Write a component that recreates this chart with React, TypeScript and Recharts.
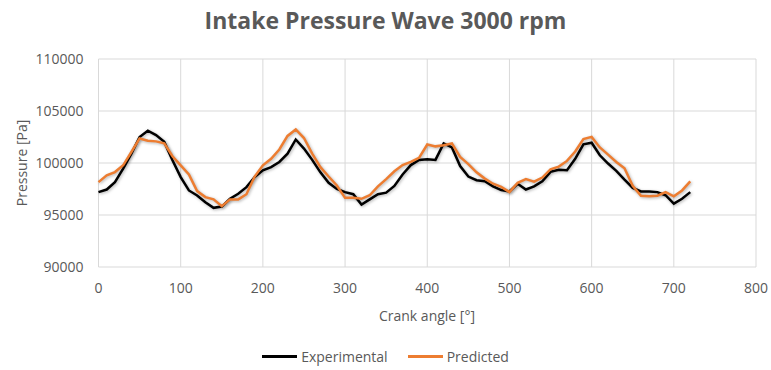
import { LineChart, Line, XAxis, YAxis, CartesianGrid, Legend } from 'recharts';

const angles = [
  0, 10, 20, 30, 40, 50, 60, 70, 80, 90, 100, 110, 120, 130, 140, 150, 160, 170, 180, 190,
  200, 210, 220, 230, 240, 250, 260, 270, 280, 290, 300, 310, 320, 330, 340, 350, 360, 370, 380, 390,
  400, 410, 420, 430, 440, 450, 460, 470, 480, 490, 500, 510, 520, 530, 540, 550, 560, 570, 580, 590,
  600, 610, 620, 630, 640, 650, 660, 670, 680, 690, 700, 710, 720,
];

const experimental = [
  97200, 97450, 98150, 99450, 100900, 102500, 103100, 102680, 102030, 100260,
  98650, 97360, 96880, 96230, 95690, 95810, 96560, 97040, 97680, 98650,
  99300, 99600, 100100, 100900, 102260, 101390, 100300, 99100, 98100, 97500,
  97200, 97000, 96000, 96500, 97000, 97150, 97800, 98900, 99800, 100300,
  100350, 100300, 101880, 101500, 99700, 98700, 98350, 98250, 97750, 97400,
  97260, 98000, 97450, 97750, 98250, 99150, 99350, 99300, 100400, 101800,
  101950, 100740, 99950, 99250, 98400, 97600, 97260, 97260, 97200, 96900,
  96100, 96560, 97200,
];

const predicted = [
  98160, 98810, 99130, 99780, 101060, 102360, 102150, 102080, 101900, 100650,
  99780, 98900, 97300, 96720, 96500, 95850, 96500, 96500, 97000, 98700,
  99780, 100400, 101300, 102600, 103230, 102400, 100900, 99600, 98700, 97840,
  96650, 96650, 96560, 96900, 97750, 98450, 99200, 99800, 100100, 100500,
  101780, 101600, 101710, 101880, 100580, 99900, 99100, 98500, 98010, 97700,
  97200, 98100, 98450, 98200, 98600, 99400, 99650, 100200, 101100, 102300,
  102510, 101500, 100800, 100100, 99500, 97800, 96850, 96810, 96850, 97200,
  96800, 97360, 98230,
];

const xTicks = [0, 100, 200, 300, 400, 500, 600, 700, 800];
const yTicks = [90000, 95000, 100000, 105000, 110000];

const data = angles.map((a, i) => ({
  angle: a,
  experimental: experimental[i],
  predicted: predicted[i],
}));

const FONT = '"Open Sans", "Noto Sans", sans-serif';
const TEXT = '#595959';

const legendItems = [
  { name: 'Experimental', color: '#000000' },
  { name: 'Predicted', color: '#ED7D31' },
];

function LegendContent() {
  return (
    <div style={{ display: 'flex', justifyContent: 'center', alignItems: 'center', gap: 20 }}>
      {legendItems.map(item => (
        <div key={item.name} style={{ display: 'flex', alignItems: 'center' }}>
          <span style={{ display: 'inline-block', width: 35, height: 3, background: item.color, marginRight: 4 }} />
          <span style={{ fontFamily: FONT, fontSize: 14, color: TEXT }}>{item.name}</span>
        </div>
      ))}
    </div>
  );
}

export default function App() {
  return (
    <div style={{ position: 'absolute', left: 0, top: 0, width: 771, height: 370, background: '#fff' }}>
      <style>{'.recharts-line-curve { filter: drop-shadow(1px 1px 1.5px rgba(0,0,0,0.3)); }'}</style>
      <div
        style={{
          position: 'absolute',
          top: 4,
          left: 0,
          width: 771,
          textAlign: 'center',
          fontFamily: FONT,
          fontWeight: 700,
          fontSize: 23,
          color: TEXT,
          zIndex: 1,
        }}
      >
        Intake Pressure Wave 3000 rpm
      </div>
      <LineChart width={771} height={370} data={data} margin={{ top: 59, right: 15, bottom: 73, left: 0 }}>
        <CartesianGrid stroke="#d9d9d9" strokeWidth={1} />
        <XAxis
          dataKey="angle"
          type="number"
          domain={[0, 800]}
          ticks={xTicks}
          axisLine={false}
          tickLine={false}
          tickMargin={10}
          height={30}
          tick={{ fill: TEXT, fontSize: 14, fontFamily: FONT }}
          label={{
            content: () => (
              <text x={427} y={321} textAnchor="middle" fill={TEXT} fontSize={14} fontFamily={FONT}>
                Crank angle [°]
              </text>
            ),
          }}
        />
        <YAxis
          type="number"
          domain={[90000, 110000]}
          ticks={yTicks}
          axisLine={false}
          tickLine={false}
          tickMargin={9}
          width={98.5}
          tick={{ fill: TEXT, fontSize: 14, fontFamily: FONT }}
          label={{
            content: () => (
              <text
                x={21}
                y={163}
                transform="rotate(-90 21 163)"
                textAnchor="middle"
                dominantBaseline="central"
                fill={TEXT}
                fontSize={14}
                fontFamily={FONT}
              >
                Pressure [Pa]
              </text>
            ),
          }}
        />
        <Legend
          layout="horizontal"
          verticalAlign="middle"
          align="center"
          content={<LegendContent />}
          wrapperStyle={{ position: 'absolute', top: 347, left: 0, width: 771 }}
        />
        <Line
          dataKey="experimental"
          stroke="#000000"
          strokeWidth={2.5}
          dot={false}
          type="linear"
          isAnimationActive={false}
        />
        <Line
          dataKey="predicted"
          stroke="#ED7D31"
          strokeWidth={2.5}
          dot={false}
          type="linear"
          isAnimationActive={false}
        />
      </LineChart>
    </div>
  );
}
